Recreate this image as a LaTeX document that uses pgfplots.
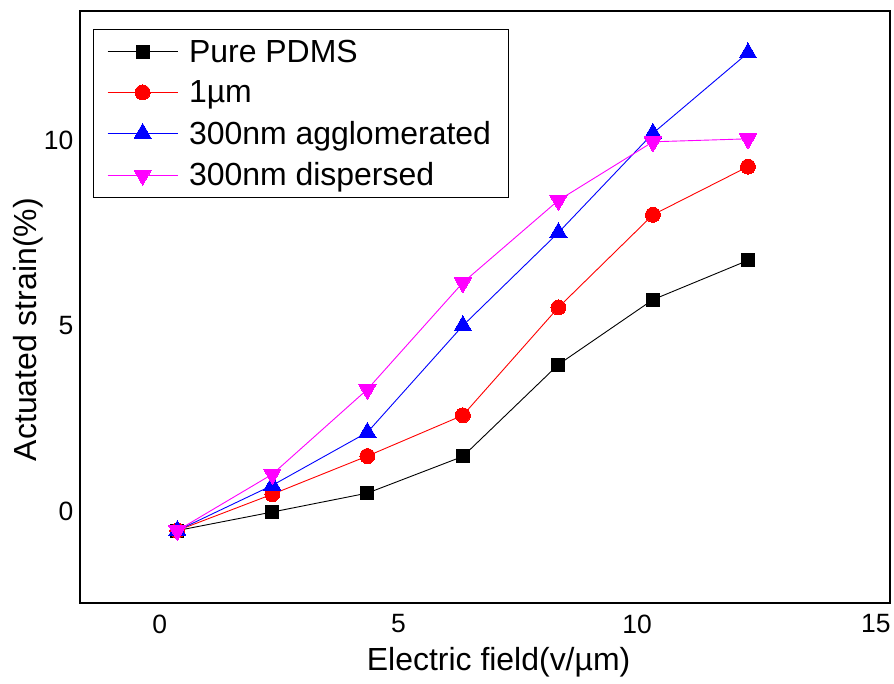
\documentclass[border=0pt]{standalone}
\usepackage{fontspec}
\setmainfont{Liberation Sans}
\usepackage{pgfplots}
\pgfplotsset{compat=1.18}
\definecolor{pinkmag}{RGB}{255,0,255}
\begin{document}
\begin{tikzpicture}
\begin{axis}[
    scale only axis,
    width=811pt, height=593pt,
    xmin=-1.67, xmax=15.29,
    ymin=-2.48, ymax=13.5,
    xtick={0,5,10,15},
    ytick={0,5,10},
    major tick length=0pt,
    axis line style={line width=2.2pt},
    /pgf/number format/assume math mode=true,
    tick label style={font=\fontsize{26.5}{30}\selectfont},
    label style={font=\fontsize{32}{36}\selectfont},
    xticklabel style={yshift=-8pt},
    yticklabel style={xshift=-3pt},
    xlabel={Electric field(v/µm)},
    ylabel={Actuated strain(\%)},
    xlabel style={at={(rel axis cs:0.517,0)}, anchor=center, yshift=-59pt},
    ylabel style={at={(rel axis cs:0,0.462)}, anchor=center, yshift=52pt},
    legend cell align=left,
    legend style={at={(rel axis cs:0,1)}, anchor=north west, xshift=13pt, yshift=-18pt,
        font=\fontsize{32}{36}\selectfont, draw=black, line width=0.8pt,
        row sep=13pt, inner xsep=14pt, inner ysep=8.5pt,
        nodes={inner xsep=3pt}},
    legend image code/.code={
        \draw[mark repeat=2, mark phase=2] plot coordinates {(0pt,0pt) (35pt,0pt) (70pt,0pt)};
    },
]
\addplot[color=black, line width=0.9pt, mark=square*, mark size=6.5pt, mark options={solid, line width=0pt}]
coordinates {(0.37,-0.52) (2.36,-0.02) (4.35,0.49) (6.35,1.48) (8.35,3.96) (10.33,5.71) (12.32,6.77)};
\addplot[color=red, line width=0.9pt, mark=*, mark size=7.5pt, mark options={solid, line width=0pt}]
coordinates {(0.37,-0.52) (2.36,0.46) (4.35,1.49) (6.35,2.59) (8.35,5.50) (10.33,8.00) (12.32,9.30)};
\addplot[color=blue, line width=0.9pt, mark=triangle*, mark size=10pt, mark options={solid, line width=0pt}]
coordinates {(0.37,-0.52) (2.36,0.70) (4.35,2.13) (6.35,5.01) (8.35,7.52) (10.33,10.20) (12.32,12.37)};
\addplot[color=pinkmag, line width=0.9pt, mark=triangle*, mark size=10pt, mark options={solid, line width=0pt, rotate=180}]
coordinates {(0.37,-0.52) (2.36,1.00) (4.35,3.29) (6.35,6.17) (8.35,8.39) (10.33,9.97) (12.32,10.05)};
\legend{\hspace{8pt}Pure PDMS, \hspace{8pt}1µm, \hspace{8pt}300nm agglomerated, \hspace{8pt}300nm dispersed}
\path (current axis.south west) ++(-80pt,-80pt) coordinate (bbA);
\path (current axis.north east) ++(3pt,11pt) coordinate (bbB);
\end{axis}
\useasboundingbox (bbA) rectangle (bbB);
\end{tikzpicture}
\end{document}
